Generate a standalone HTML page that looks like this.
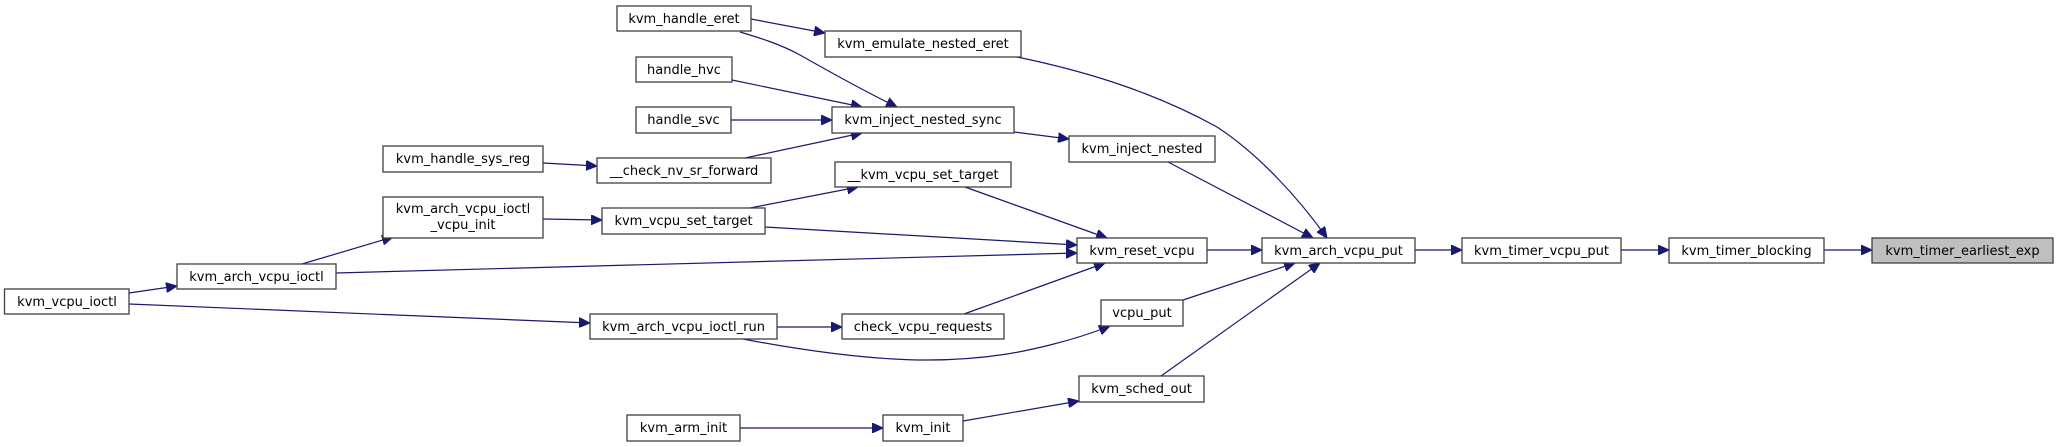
<!DOCTYPE html>
<html><head><meta charset="utf-8"><style>
html,body{margin:0;padding:0;background:#fff;}
svg{display:block;}
text{font-family:"DejaVu Sans","Liberation Sans",sans-serif;font-size:13px;fill:#000;}
.n{fill:#fff;stroke:#404040;stroke-width:1.3;}
.e{fill:none;stroke:#191970;stroke-width:1.2;marker-end:url(#a);}
</style></head><body>
<svg width="2057" height="447" viewBox="0 0 2057 447" xmlns="http://www.w3.org/2000/svg">
<defs><marker id="a" markerUnits="userSpaceOnUse" markerWidth="12" markerHeight="10" refX="11" refY="5" orient="auto"><path d="M0,0 L11,5 L0,10 Z" fill="#191970" stroke="#191970"/></marker></defs>

<!-- edges -->
<path class="e" d="M751,19 L825,33"/>
<path class="e" d="M740,32 C760,38 780,44 800,55 C830,72 870,94 897,107"/>
<path class="e" d="M732,80 L862,107"/>
<path class="e" d="M731,120 L832,120"/>
<path class="e" d="M745,158 L862,133"/>
<path class="e" d="M543,163 L597,166"/>
<path class="e" d="M1017,57 C1080,70 1150,90 1217,127 C1260,155 1300,200 1327,238"/>
<path class="e" d="M1014,132 L1069,139"/>
<path class="e" d="M1168,162 L1313,238"/>
<path class="e" d="M965,187 L1107,238"/>
<path class="e" d="M765,227 L1077,245"/>
<path class="e" d="M336,273 L1077,253"/>
<path class="e" d="M964,314 L1105,263"/>
<path class="e" d="M1207,250 L1262,250"/>
<path class="e" d="M1183,300 L1295,263"/>
<path class="e" d="M1161,376 L1320,263"/>
<path class="e" d="M1415,250 L1462,250"/>
<path class="e" d="M1621,250 L1669,250"/>
<path class="e" d="M1824,250 L1872,250"/>
<path class="e" d="M750,208 L858,187"/>
<path class="e" d="M543,219 L602,220"/>
<path class="e" d="M302,264 L393,237"/>
<path class="e" d="M129,293 L177,286"/>
<path class="e" d="M129,304 L590,323"/>
<path class="e" d="M777,327 L842,327"/>
<path class="e" d="M743,339 C800,350 870,360 927,360 C990,360 1030,350 1050,345 C1070,340 1090,334 1110,326"/>
<path class="e" d="M740,428 L883,428"/>
<path class="e" d="M963,421 L1079,401"/>

<!-- nodes -->
<rect class="n" x="617" y="6" width="134" height="25"/><text x="684" y="23" text-anchor="middle">kvm_handle_eret</text>
<rect class="n" x="825" y="31" width="196" height="26"/><text x="923" y="48" text-anchor="middle">kvm_emulate_nested_eret</text>
<rect class="n" x="636" y="57" width="96" height="25"/><text x="684" y="74" text-anchor="middle">handle_hvc</text>
<rect class="n" x="636" y="107" width="95" height="26"/><text x="683.5" y="124" text-anchor="middle">handle_svc</text>
<rect class="n" x="832" y="107" width="182" height="26"/><text x="923" y="124" text-anchor="middle">kvm_inject_nested_sync</text>
<rect class="n" x="383" y="146" width="160" height="26"/><text x="463" y="163" text-anchor="middle">kvm_handle_sys_reg</text>
<rect class="n" x="597" y="158" width="174" height="25"/><text x="684" y="175" text-anchor="middle">__check_nv_sr_forward</text>
<rect class="n" x="835" y="162" width="176" height="25"/><text x="923" y="179" text-anchor="middle">__kvm_vcpu_set_target</text>
<rect class="n" x="1069" y="136" width="146" height="26"/><text x="1142" y="153" text-anchor="middle">kvm_inject_nested</text>
<rect class="n" x="383" y="197" width="160" height="41"/><text x="463" y="213" text-anchor="middle">kvm_arch_vcpu_ioctl</text><text x="463" y="229" text-anchor="middle">_vcpu_init</text>
<rect class="n" x="602" y="208" width="163" height="26"/><text x="683.5" y="225" text-anchor="middle">kvm_vcpu_set_target</text>
<rect class="n" x="1077" y="238" width="130" height="25"/><text x="1142" y="255" text-anchor="middle">kvm_reset_vcpu</text>
<rect class="n" x="1262" y="238" width="153" height="25"/><text x="1338.5" y="255" text-anchor="middle">kvm_arch_vcpu_put</text>
<rect class="n" x="1462" y="238" width="159" height="25"/><text x="1541.5" y="255" text-anchor="middle">kvm_timer_vcpu_put</text>
<rect class="n" x="1669" y="238" width="155" height="25"/><text x="1746.5" y="255" text-anchor="middle">kvm_timer_blocking</text>
<rect x="1872" y="238" width="181" height="25" fill="#bfbfbf" stroke="#404040" stroke-width="1.3"/><text x="1962.5" y="255" text-anchor="middle">kvm_timer_earliest_exp</text>
<rect class="n" x="177" y="264" width="159" height="25"/><text x="256.5" y="281" text-anchor="middle">kvm_arch_vcpu_ioctl</text>
<rect class="n" x="4.5" y="289" width="124.5" height="25"/><text x="67" y="306" text-anchor="middle">kvm_vcpu_ioctl</text>
<rect class="n" x="1101" y="300" width="82" height="26"/><text x="1142" y="317" text-anchor="middle">vcpu_put</text>
<rect class="n" x="590" y="314" width="187" height="25"/><text x="683.5" y="331" text-anchor="middle">kvm_arch_vcpu_ioctl_run</text>
<rect class="n" x="842" y="314" width="162" height="25"/><text x="923" y="331" text-anchor="middle">check_vcpu_requests</text>
<rect class="n" x="1079" y="376" width="125" height="26"/><text x="1141.5" y="393" text-anchor="middle">kvm_sched_out</text>
<rect class="n" x="627" y="415" width="113" height="26"/><text x="683.5" y="432" text-anchor="middle">kvm_arm_init</text>
<rect class="n" x="883" y="415" width="80" height="26"/><text x="923" y="432" text-anchor="middle">kvm_init</text>
</svg>
</body></html>
